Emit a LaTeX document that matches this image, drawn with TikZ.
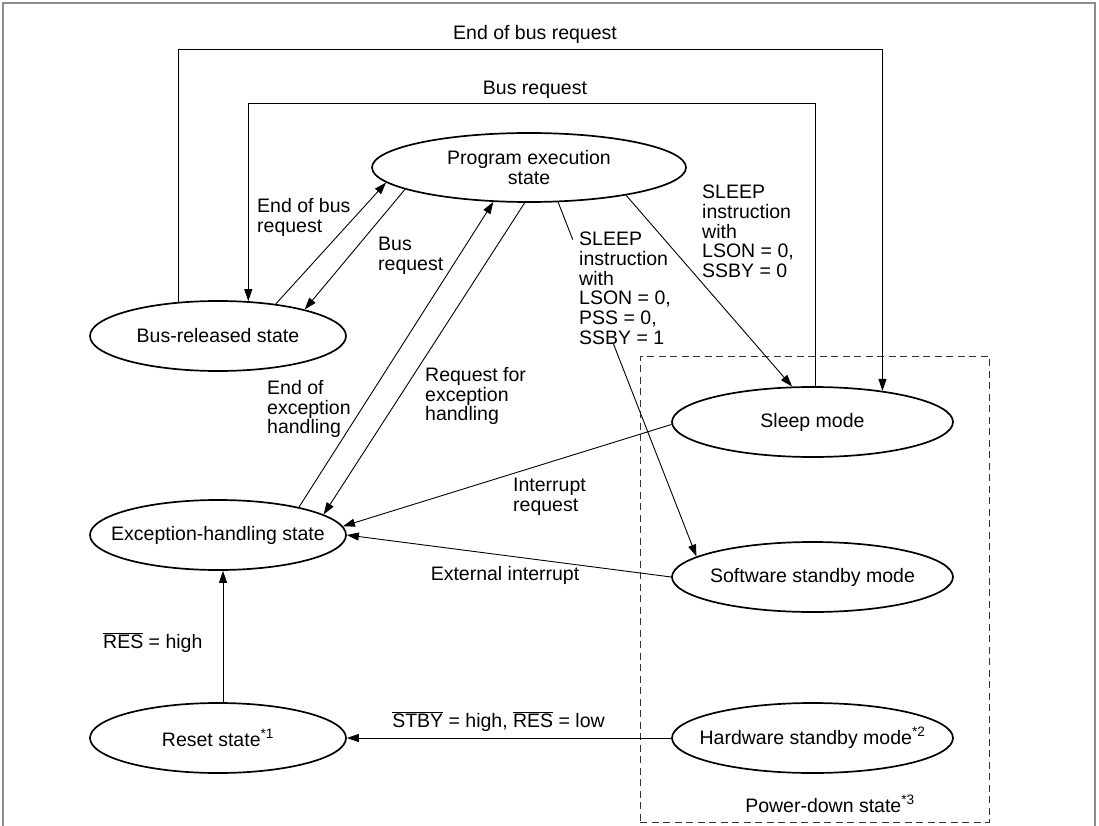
\documentclass[tikz,border=0pt]{standalone}
\usepackage{fontspec}
\setmainfont{Liberation Sans}
\usetikzlibrary{arrows.meta,shapes.geometric,calc}
\begin{document}
\begin{tikzpicture}[x=1pt,y=-1pt,
  every node/.style={font=\fontsize{19.5}{19.7}\selectfont, inner sep=0pt},
  stL/.style={ellipse, draw, line width=1.7pt, minimum width=256pt, minimum height=70pt},
  stR/.style={ellipse, draw, line width=1.7pt, minimum width=281pt, minimum height=70pt},
  stP/.style={ellipse, draw, line width=1.7pt, minimum width=314pt, minimum height=69pt},
  conn/.style={line width=0.9pt},
  arr/.style={conn, -{Triangle[length=12pt,width=8pt]}},
  lbl/.style={anchor=north west, align=left},
  framec/.style={draw=black!45, line width=2pt}]
\useasboundingbox (0,0) rectangle (1099,826);
% frame
\draw[framec] (3,826) -- (3,3) -- (1095,3) -- (1095,826);
% power-down box
\node[draw=black!80, dash pattern=on 7pt off 4.5pt, line width=0.9pt, minimum width=349pt, minimum height=466pt] (pd) at (814.5,589) {};
\node[anchor=north] (pdl) at (830,795) {Power-down state\textsuperscript{*3}};
% states
\node[stP, label={[align=center]center:Program execution\\state}] (prog) at (529,167.5) {};
\node[stL, label=center:{Bus-released state}] (bus) at (218,336) {};
\node[stL, label=center:{Exception-handling state}] (exc) at (218,535) {};
\node[stL, label=center:{Reset state\textsuperscript{*1}}] (reset) at (218,738) {};
\node[stR, label=center:{Sleep mode}] (sleep) at (812.5,422) {};
\node[stR, label=center:{Software standby mode}] (soft) at (812.5,577) {};
\node[stR, label=center:{Hardware standby mode\textsuperscript{*2}}] (hw) at (812.5,738) {};
% helper coordinates for the loops
\coordinate (o1) at (529,49);
\coordinate (i1) at (529,103);
% outer loop: end of bus request
\draw[arr] (bus.139.5) -- (bus.139.5 |- o1) -- (sleep.24.9 |- o1) -- (sleep.24.9);
\node[anchor=base] (t1) at (535,40) {End of bus request};
% inner loop: bus request
\draw[arr] (sleep.85.9) -- (sleep.85.9 |- i1) -- (bus.49.7 |- i1) -- (bus.49.7);
\node[anchor=base] (t2) at (535,95) {Bus request};
% bus released <-> program
\draw[arr] (bus.29.7) -- (prog.186.2);
\draw[arr] (prog.190.9) -- (bus.17.7);
\node[lbl] (t3) at (257,198) {End of bus\\request};
\node[lbl] (t4) at (378,237) {Bus\\request};
% exception <-> program
\draw[arr] (exc.19.2) -- (prog.224.7);
\draw[arr] (prog.263.4) -- (exc.11.4);
\node[lbl] (t5) at (267,380) {End of\\exception\\handling};
\node[lbl] (t6) at (425,367) {Request for\\exception\\handling};
% program -> sleep
\draw[arr] (prog.344.4) -- (sleep.120.6);
\node[lbl] (t7) at (702,185) {SLEEP\\instruction\\with\\LSON = 0,\\SSBY = 0};
% program -> software standby
\draw[conn] (prog.310.5) -- ($(prog.310.5)!0.105!(soft.170.4)$);
\draw[arr] ($(prog.310.5)!0.40!(soft.170.4)$) -- (soft.170.4);
\node[lbl] (t8) at (579,232) {SLEEP\\instruction\\with\\LSON = 0,\\PSS = 0,\\SSBY = 1};
% interrupts
\draw[arr] (sleep.181) -- (exc.4.5);
\node[lbl] (t9) at (513,478) {Interrupt\\request};
\draw[arr] (soft.west) -- (exc.east);
\node[anchor=north] (t10) at (505,566) {External interrupt};
% reset
\draw[arr] ([xshift=5pt]reset.north) -- ([xshift=5pt]exc.south);
\node[anchor=base west] (t11) at (103,648) {$\overline{\mbox{RES}}$ = high};
\draw[arr] (hw.west) -- (reset.east);
\node[anchor=base] (t12) at (498.5,727) {$\overline{\mbox{STBY}}$ = high, $\overline{\mbox{RES}}$ = low};
\end{tikzpicture}
\end{document}
